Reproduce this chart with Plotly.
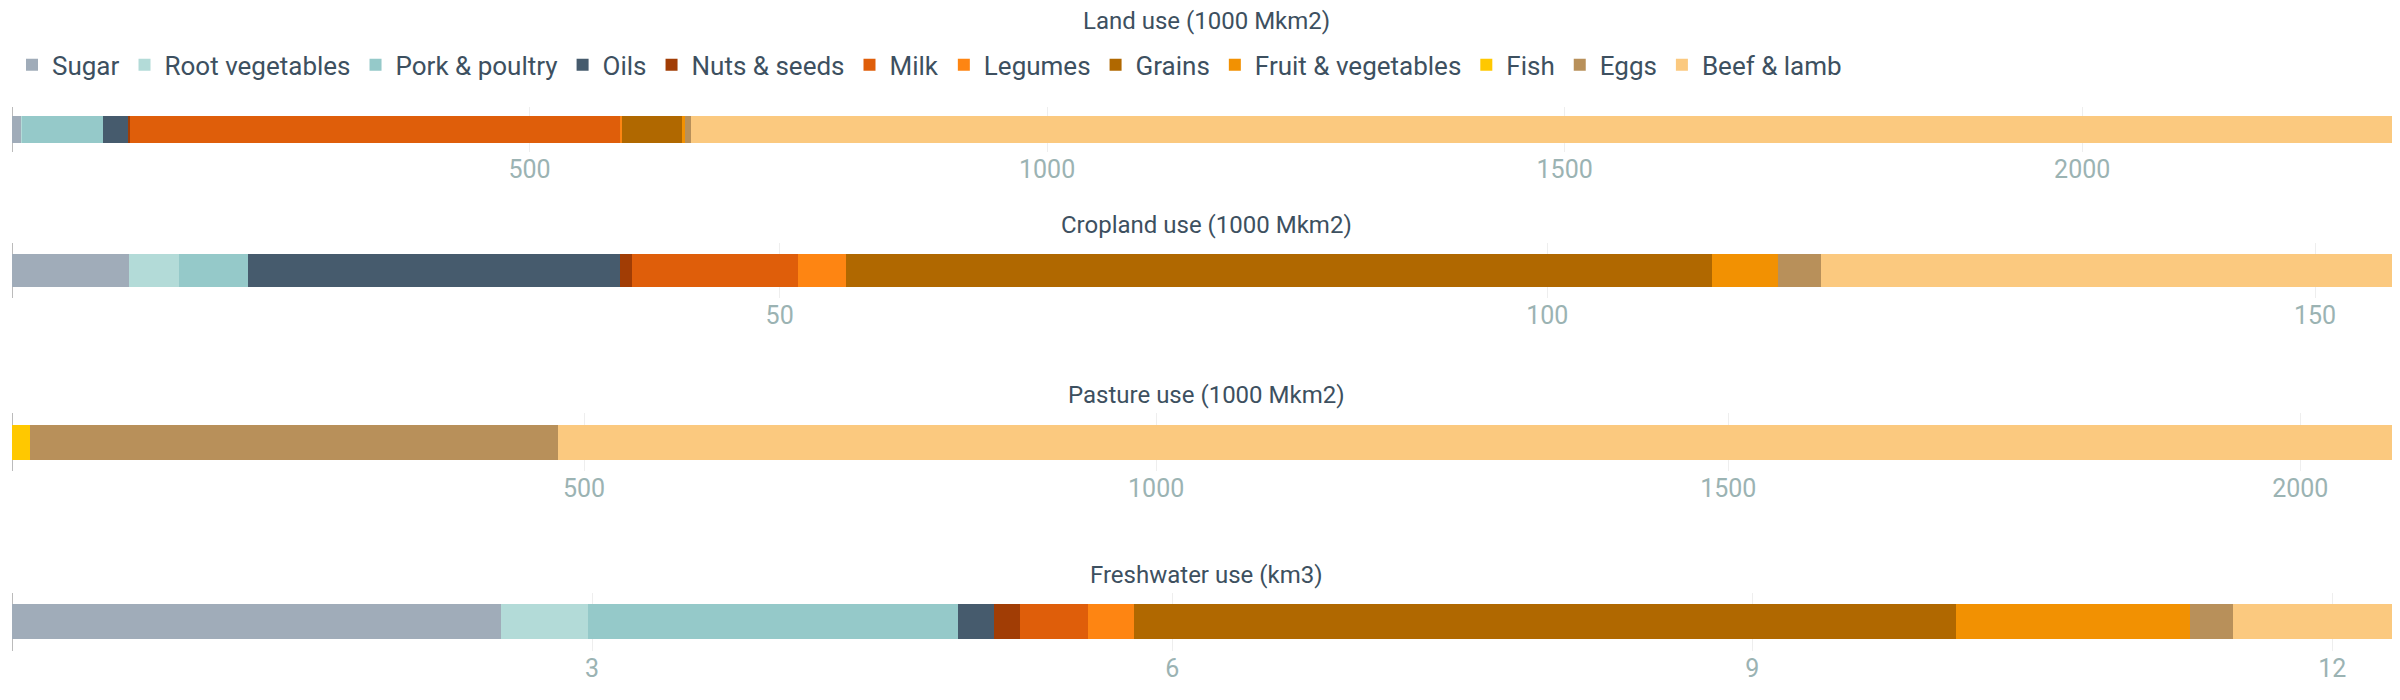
import plotly.graph_objects as go
from plotly.subplots import make_subplots

foods = ["Sugar", "Root vegetables", "Pork & poultry", "Oils", "Nuts & seeds", "Milk",
         "Legumes", "Grains", "Fruit & vegetables", "Fish", "Eggs", "Beef & lamb"]
colors = ["#a0acb9", "#b3dbd8", "#95c9c9", "#465b6d", "#a13d05", "#df5e0a",
          "#fe8512", "#b06800", "#f29102", "#ffc800", "#b8905a", "#fbc97f"]

metrics = ["Land use (1000 Mkm2)", "Cropland use (1000 Mkm2)", "Pasture use (1000 Mkm2)", "Freshwater use (km3)"]
land = [9, 1, 78, 25, 1, 473, 2, 58, 3, 0, 6, 1652]
cropland = [7.6, 3.3, 4.5, 24.2, 0.8, 10.8, 3.1, 56.4, 4.3, 0, 2.8, 37.8]
pasture = [0, 0, 0, 0, 0, 0, 0, 0, 0, 16, 461, 1611]
freshwater = [2.53, 0.45, 1.91, 0.19, 0.135, 0.35, 0.24, 4.25, 1.21, 0, 0.22, 0.87]
series = [land, cropland, pasture, freshwater]
tick_steps = [500, 50, 500, 3]

domains = [(0.905, 0.985), (0.65, 0.745), (0.345, 0.447), (0.03, 0.132)]

fig = make_subplots(rows=4, cols=1)
for r, vals in enumerate(series, start=1):
    for i, f in enumerate(foods):
        fig.add_trace(go.Bar(x=[vals[i]], y=[metrics[r - 1]], orientation="h", name=f,
                             marker=dict(color=colors[i], line=dict(width=0)),
                             legendgroup=f, showlegend=(r == 1)), row=r, col=1)

font_c = "#3d5060"
for r in range(4):
    n = "" if r == 0 else str(r + 1)
    fig.layout["xaxis" + n].update(range=[0, sum(series[r])], dtick=tick_steps[r],
                                   showgrid=True, gridcolor="#eeeeee", zeroline=True,
                                   zerolinecolor="#bbbbbb", zerolinewidth=1,
                                   tickfont=dict(size=25, color="#9bb3b3"))
    fig.layout["yaxis" + n].update(domain=list(domains[r]), showticklabels=False, showgrid=False)
    if r == 0:
        fig.add_annotation(text=metrics[r], x=0.5, xref="paper", y=1.135, yref="paper",
                           yanchor="middle", showarrow=False,
                           font=dict(size=24, color=font_c))
    else:
        fig.add_annotation(text=metrics[r], x=0.5, xref="paper", y=domains[r][1], yref="paper",
                           yanchor="bottom", yshift=2, showarrow=False,
                           font=dict(size=24, color=font_c))

fig.update_layout(
    width=2400, height=700, barmode="stack", bargap=0.4,
    plot_bgcolor="white", paper_bgcolor="white",
    font=dict(family="Roboto, Liberation Sans, sans-serif", color=font_c),
    margin=dict(l=4, r=7, t=90, b=40),
    legend=dict(orientation="h", x=0, y=1.058, xanchor="left", yanchor="middle",
                font=dict(size=26, color=font_c), traceorder="normal"),
)

fig.write_html("out.html")
